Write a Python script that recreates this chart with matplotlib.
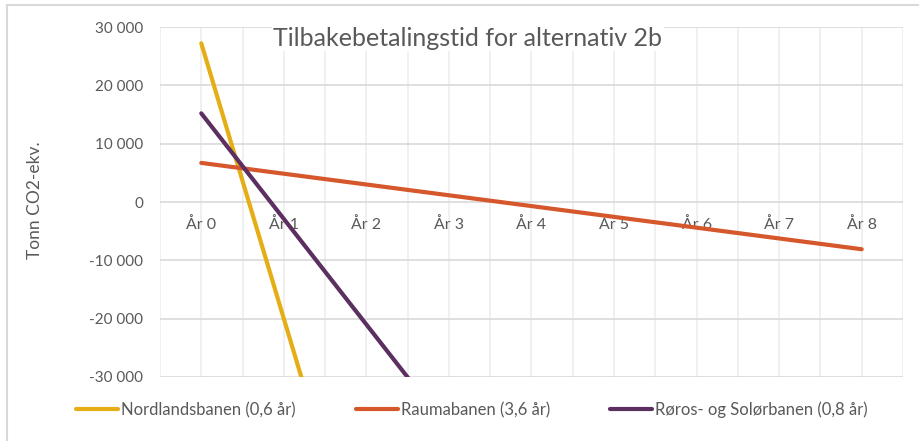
import matplotlib
matplotlib.use("Agg")
import matplotlib.pyplot as plt
from matplotlib.lines import Line2D
from matplotlib.ticker import FuncFormatter, MultipleLocator

plt.rcParams['font.family'] = ['Lato', 'DejaVu Sans']

# tonn CO2-ekv. per year, cumulative
years = ["År 0", "År 1", "År 2", "År 3", "År 4", "År 5", "År 6", "År 7", "År 8"]
nordland = [27200, -20000, -67200, -114400, -161600, -208800, -256000, -303200, -350400]
rauma = [6700, 4850, 3000, 1150, -700, -2550, -4400, -6250, -8100]
roros = [15200, -2900, -21000, -39100, -57200, -75300, -93400, -111500, -129600]

names = ["Nordlandsbanen (0,6 år)", "Raumabanen (3,6 år)", "Røros- og Solørbanen (0,8 år)"]
colors = ["#E5AE17", "#D5572B", "#5B2F5F"]
txt = "#595959"

fig = plt.figure(figsize=(9.2, 4.41), dpi=100)
ax = fig.add_axes([160/920, 1-377/441, 743/920, 350/441])

x = list(range(len(years)))
for vals, name, c in zip([nordland, rauma, roros], names, colors):
    ax.plot(x, vals, color=c, lw=3, label=name, solid_capstyle='round', zorder=3)

ax.set_xlim(-0.5, 8.5)
ax.set_ylim(-30000, 30000)
ax.yaxis.set_major_locator(MultipleLocator(10000))
ax.yaxis.set_major_formatter(FuncFormatter(lambda v, p: f"{v:,.0f}".replace(",", " ")))
ax.set_xticks(x)
ax.set_xticklabels(years)
ax.set_xticks([i - 0.5 for i in range(10)], minor=True)

# category axis sits on the zero line
ax.spines['bottom'].set_position(('data', 0))
for s in ax.spines.values():
    s.set_visible(False)
ax.tick_params(axis='x', which='both', length=0, pad=11, labelsize=11.5, labelcolor=txt)
ax.tick_params(axis='y', length=0, pad=12, labelsize=11, labelcolor=txt)

ax.grid(axis='y', color='#D9D9D9', lw=1.2, zorder=0)
ax.grid(axis='x', which='both', color='#EEEEEE', lw=1.2, zorder=0)
ax.set_axisbelow(True)

ax.text(273/920, 1-38/441, "Tilbakebetalingstid for alternativ 2b", transform=fig.transFigure,
        fontsize=18, color=txt, va='center', ha='left', zorder=5,
        bbox=dict(facecolor='white', edgecolor='none', pad=1))

fig.text(35/920, 1-200/441, "Tonn CO2-ekv.", rotation=90, fontsize=12.5, color=txt,
         ha='center', va='center')

fig.legend(*ax.get_legend_handles_labels(), loc='center', bbox_to_anchor=(472/920, 1-410/441),
           ncol=3, frameon=False, fontsize=12, labelcolor=txt, handlelength=2.5,
           handletextpad=0.2, columnspacing=3.6)

# chart area border
fig.add_artist(Line2D([7/920, 1], [1-5/441, 1-5/441], transform=fig.transFigure, color='#D9D9D9', lw=1.5))
fig.add_artist(Line2D([7/920, 7/920], [0, 1-5/441], transform=fig.transFigure, color='#D9D9D9', lw=1.5))

fig.savefig("out.png", dpi=100)
